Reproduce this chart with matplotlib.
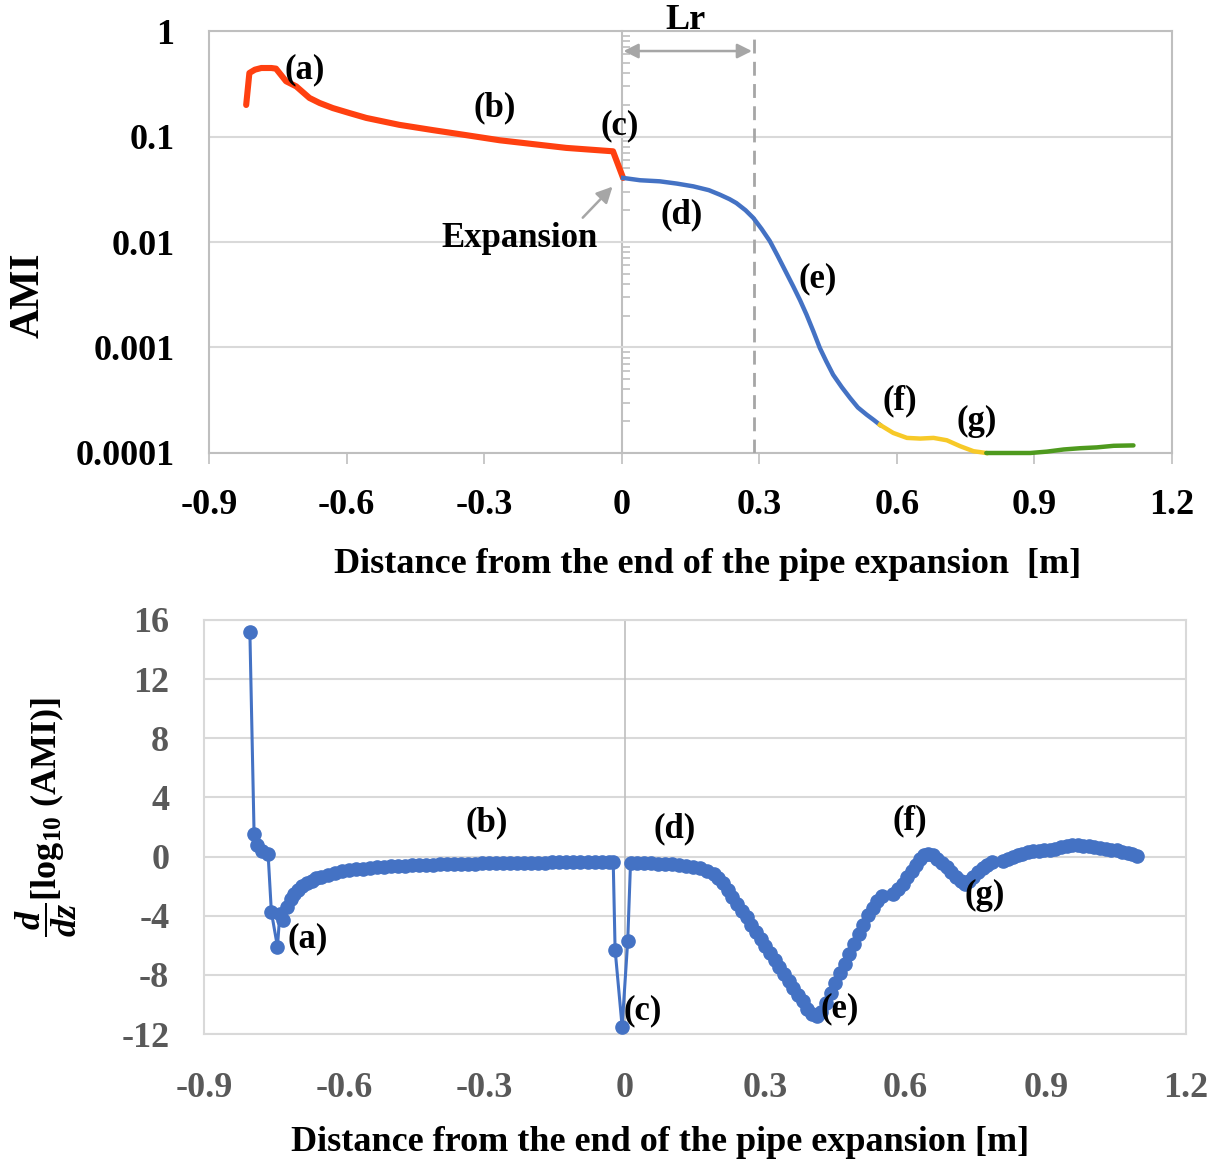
import matplotlib
matplotlib.use("Agg")
import matplotlib.pyplot as plt
from matplotlib.ticker import LogLocator, NullFormatter, FixedLocator
import numpy as np

plt.rcParams['font.family'] = ['Liberation Serif', 'DejaVu Serif']
plt.rcParams['font.weight'] = 'bold'
plt.rcParams['mathtext.fontset'] = 'custom'
plt.rcParams['mathtext.rm'] = 'Liberation Serif:bold'
plt.rcParams['mathtext.it'] = 'Liberation Serif:italic:bold'
plt.rcParams['mathtext.bf'] = 'Liberation Serif:bold'

# ---------------- top panel data (AMI, log scale) ----------------
red_x = [-0.819, -0.812, -0.800, -0.786, -0.764, -0.754, -0.732, -0.710, -0.681, -0.659,
         -0.630, -0.594, -0.557, -0.485, -0.412, -0.339, -0.266, -0.194, -0.121, -0.019, 0.003]
red_y = [0.199, 0.40, 0.43, 0.446, 0.446, 0.44, 0.334, 0.299, 0.232, 0.208,
         0.186, 0.167, 0.150, 0.129, 0.115, 0.103, 0.0921, 0.0848, 0.0780, 0.0724, 0.0405]

blue_x = [0.003, 0.04, 0.083, 0.12, 0.156, 0.19, 0.214, 0.235, 0.25, 0.27, 0.287, 0.305,
          0.323, 0.34, 0.36, 0.374, 0.389, 0.403, 0.418, 0.432, 0.446, 0.461, 0.48, 0.498,
          0.515, 0.534, 0.55, 0.563]
blue_y = [0.0405, 0.0385, 0.0376, 0.0358, 0.0337, 0.031, 0.0281, 0.0255, 0.0234, 0.0200,
          0.0169, 0.0133, 0.0102, 0.0074, 0.0050, 0.0038, 0.0028, 0.00205, 0.00142,
          0.00099, 0.00074, 0.000552, 0.00042, 0.000332, 0.00027, 0.000231, 0.000205, 0.000185]

yellow_x = [0.563, 0.592, 0.622, 0.651, 0.680, 0.709, 0.738, 0.767, 0.795]
yellow_y = [0.000185, 0.000155, 0.000139, 0.000137, 0.000139, 0.000132, 0.000116, 0.000104, 0.000100]

green_x = [0.795, 0.840, 0.891, 0.927, 0.964, 1.000, 1.036, 1.073, 1.116]
green_y = [0.000100, 0.000100, 0.000100, 0.000103, 0.000108, 0.000111, 0.000113, 0.000117, 0.000118]

top_yticks = [0.0001, 0.001, 0.01, 0.1, 1]
top_yticklabels = ['0.0001', '0.001', '0.01', '0.1', '1']
xticks = [-0.9, -0.6, -0.3, 0, 0.3, 0.6, 0.9, 1.2]
xticklabels = ['-0.9', '-0.6', '-0.3', '0', '0.3', '0.6', '0.9', '1.2']
Lr = 0.288

# ---------------- bottom panel data (derivative) ----------------
d1_x = [-0.802, -0.793, -0.786, -0.777, -0.763, -0.756, -0.743, -0.738, -0.731, -0.722,
        -0.715, -0.707, -0.70, -0.69, -0.68, -0.67, -0.66, -0.65, -0.635, -0.62,
        -0.605, -0.59, -0.575, -0.56, -0.545, -0.53, -0.515, -0.50, -0.485, -0.47,
        -0.455, -0.44, -0.425, -0.41, -0.395, -0.38, -0.365, -0.35, -0.335, -0.32,
        -0.305, -0.29, -0.275, -0.26, -0.245, -0.23, -0.215, -0.20, -0.185, -0.17,
        -0.155, -0.14, -0.125, -0.11, -0.095, -0.08, -0.065, -0.05, -0.035, -0.025,
        -0.021, -0.006, 0.006, 0.012, 0.025, 0.04, 0.055, 0.07, 0.085, 0.10,
        0.115, 0.13, 0.145, 0.16, 0.175, 0.19, 0.20, 0.21, 0.22, 0.23,
        0.24, 0.25, 0.26, 0.27, 0.28, 0.29, 0.30, 0.31, 0.32, 0.33,
        0.34, 0.35, 0.36, 0.37, 0.38, 0.39, 0.40, 0.41, 0.42, 0.43,
        0.44, 0.45, 0.46, 0.47, 0.48, 0.49, 0.50, 0.51, 0.52, 0.53, 0.54, 0.55]
d1_y = [15.2, 1.55, 0.75, 0.35, 0.15, -3.75, -6.1, -3.9, -4.3, -3.4,
        -2.9, -2.5, -2.25, -2.0, -1.8, -1.62, -1.48, -1.36, -1.22, -1.1,
        -1.0, -0.93, -0.87, -0.82, -0.77, -0.73, -0.70, -0.67, -0.64, -0.62,
        -0.60, -0.58, -0.56, -0.54, -0.53, -0.51, -0.50, -0.49, -0.48, -0.47,
        -0.46, -0.45, -0.45, -0.44, -0.43, -0.43, -0.42, -0.42, -0.41, -0.41,
        -0.40, -0.40, -0.40, -0.39, -0.39, -0.39, -0.38, -0.38, -0.38, -0.38,
        -6.3, -11.5, -5.7, -0.42, -0.43, -0.44, -0.45, -0.47, -0.49, -0.52,
        -0.56, -0.62, -0.70, -0.80, -0.95, -1.2, -1.45, -1.8, -2.25, -2.75,
        -3.2, -3.65, -4.1, -4.6, -5.1, -5.55, -6.05, -6.5, -7.0, -7.45,
        -7.95, -8.4, -8.9, -9.35, -9.8, -10.3, -10.65, -10.75, -10.5, -9.9,
        -9.2, -8.55, -7.9, -7.25, -6.6, -5.9, -5.25, -4.6, -3.95, -3.45, -3.0, -2.7]

d2_x = [0.574, 0.585, 0.595, 0.604, 0.613, 0.622, 0.631, 0.64, 0.649, 0.658, 0.667, 0.677,
        0.688, 0.698, 0.709, 0.718, 0.727, 0.736, 0.745, 0.755, 0.766, 0.775, 0.784]
d2_y = [-2.52, -2.2, -1.85, -1.4, -0.95, -0.55, -0.16, 0.08, 0.18, 0.08, -0.16, -0.42,
        -0.72, -1.05, -1.4, -1.65, -1.85, -1.65, -1.4, -1.05, -0.76, -0.55, -0.38]

d3_x = [0.809, 0.82, 0.83, 0.84, 0.85, 0.862, 0.873, 0.885, 0.897, 0.909, 0.92, 0.933, 0.945,
        0.957, 0.968, 0.98, 0.992, 1.004, 1.016, 1.028, 1.04, 1.052, 1.064, 1.076, 1.085, 1.094]
d3_y = [-0.27, -0.15, -0.02, 0.1, 0.2, 0.29, 0.36, 0.4, 0.43, 0.45, 0.52, 0.62, 0.72,
        0.76, 0.76, 0.74, 0.7, 0.65, 0.58, 0.52, 0.47, 0.41, 0.34, 0.26, 0.17, 0.07]

bot_yticks = [-12, -8, -4, 0, 4, 8, 12, 16]
bot_yticklabels = ['-12', '-8', '-4', '0', '4', '8', '12', '16']

# ---------------- styling ----------------
RED = '#FF4010'
BLUE = '#4472C4'
YELLOW = '#F7C928'
GREEN = '#4E9A1E'
GRID = '#d9d9d9'
AXGREY = '#bfbfbf'
ARROW = '#a6a6a6'
FS = 26

fig = plt.figure(figsize=(12.16, 11.66), dpi=100)

# ---------------- top panel ----------------
ax1 = fig.add_axes([0.1719, 0.6115, 0.7919, 0.3619])
ax1.set_yscale('log')
ax1.set_xlim(-0.9, 1.2)
ax1.set_ylim(1e-4, 1)
ax1.plot(red_x, red_y, color=RED, lw=4.4, solid_capstyle='round', clip_on=False, zorder=4)
ax1.plot(blue_x, blue_y, color=BLUE, lw=3.2, clip_on=False, zorder=4)
ax1.plot(yellow_x, yellow_y, color=YELLOW, lw=3.2, clip_on=False, zorder=4)
ax1.plot(green_x, green_y, color=GREEN, lw=3.2, solid_capstyle='round', clip_on=False, zorder=4)

ax1.set_yticks(top_yticks)
ax1.set_yticklabels(top_yticklabels)
ax1.yaxis.set_minor_locator(FixedLocator([]))
ax1.set_xticks(xticks)
ax1.set_xticklabels(xticklabels)
ax1.grid(axis='y', which='major', color=GRID, lw=1.5)
ax1.set_axisbelow(True)
for s in ax1.spines.values():
    s.set_color(AXGREY)
    s.set_linewidth(1.5)
ax1.tick_params(axis='x', direction='out', length=8, width=1.2, color=AXGREY,
                labelsize=FS, pad=18, labelcolor='black')
ax1.tick_params(axis='y', length=0, labelsize=FS, pad=25, labelcolor='black')

# vertical axis at x = 0 with log minor ticks
sec = ax1.secondary_yaxis(0.9 / 2.1)
sec.spines['left'].set_color(AXGREY)
sec.spines['left'].set_linewidth(1.5)
sec.yaxis.set_major_locator(LogLocator(base=10))
sec.yaxis.set_minor_locator(LogLocator(base=10, subs=np.arange(2, 10)))
sec.yaxis.set_major_formatter(NullFormatter())
sec.yaxis.set_minor_formatter(NullFormatter())
sec.tick_params(which='both', direction='in', color=AXGREY, width=1.2)
sec.tick_params(which='major', length=0)
sec.tick_params(which='minor', length=6)

ax1.axvline(Lr, color=ARROW, lw=2, ls=(0, (5, 3)), zorder=3)
ax1.annotate('', xy=(0.004, 0.646), xytext=(Lr - 0.004, 0.646),
             arrowprops=dict(arrowstyle='<|-|>', color=ARROW, lw=1.8, mutation_scale=22,
                             shrinkA=0, shrinkB=0))
ax1.text(0.14, 1.25, 'Lr', ha='center', va='center', fontsize=FS, fontweight='bold',
         clip_on=False)
ax1.text(-0.223, 0.0109, 'Expansion', ha='center', va='center', fontsize=FS - 1,
         fontweight='bold')
ax1.annotate('', xy=(-0.020, 0.0335), xytext=(-0.085, 0.0170),
             arrowprops=dict(arrowstyle='-|>', color=ARROW, lw=1.8, mutation_scale=24,
                             shrinkA=0, shrinkB=0))

top_labels = [('(a)', -0.692, 0.427), ('(b)', -0.277, 0.186), ('(c)', -0.004, 0.126),
              ('(d)', 0.131, 0.018), ('(e)', 0.428, 0.00447), ('(f)', 0.607, 0.000311),
              ('(g)', 0.775, 0.000197)]
for t, x, y in top_labels:
    ax1.text(x, y, t, ha='center', va='center', fontsize=FS - 1, fontweight='bold', zorder=5)

ax1.set_xlabel('Distance from the end of the pipe expansion  [m]', fontsize=FS, fontweight='bold')
ax1.xaxis.label.set_va('center')
ax1.xaxis.set_label_coords(0.518, -0.264)
ax1.set_ylabel('AMI', fontsize=30, fontweight='bold')
ax1.yaxis.label.set_va('center')
ax1.yaxis.set_label_coords(-0.187, 0.373)

# ---------------- bottom panel ----------------
ax2 = fig.add_axes([0.1678, 0.1132, 0.8076, 0.3551])
ax2.set_xlim(-0.9, 1.2)
ax2.set_ylim(-12, 16)
for xs, ys in [(d1_x, d1_y), (d2_x, d2_y), (d3_x, d3_y)]:
    ax2.plot(xs, ys, color=BLUE, lw=2.2, marker='o', ms=9.5, mfc=BLUE, mec=BLUE, zorder=4)
ax2.axvline(0, color=AXGREY, lw=1.2, zorder=1)
ax2.set_yticks(bot_yticks)
ax2.set_yticklabels(bot_yticklabels)
ax2.set_xticks(xticks)
ax2.set_xticklabels(xticklabels)
ax2.grid(axis='y', color=GRID, lw=1.5)
ax2.set_axisbelow(True)
for s in ax2.spines.values():
    s.set_color(GRID)
    s.set_linewidth(1.5)
ax2.tick_params(axis='both', length=0, labelsize=FS, labelcolor='#595959')
ax2.tick_params(axis='x', pad=27)
ax2.tick_params(axis='y', pad=25)

bot_labels = [('(b)', -0.295, 2.3), ('(a)', -0.678, -5.55), ('(d)', 0.107, 1.9),
              ('(c)', 0.038, -10.4), ('(e)', 0.46, -10.3), ('(f)', 0.61, 2.45),
              ('(g)', 0.77, -2.65)]
for t, x, y in bot_labels:
    ax2.text(x, y, t, ha='center', va='center', fontsize=FS - 1, fontweight='bold', zorder=5)

ax2.set_xlabel('Distance from the end of the pipe expansion [m]', fontsize=FS, fontweight='bold')
ax2.xaxis.label.set_va('center')
ax2.xaxis.set_label_coords(0.464, -0.261)
ax2.set_ylabel(r'$\dfrac{d}{dz}$[log$_{10}$ (AMI)]', fontsize=FS, fontweight='bold')
ax2.yaxis.label.set_va('center')
ax2.yaxis.set_label_coords(-0.161, 0.524)

fig.savefig('out.png', dpi=100)
